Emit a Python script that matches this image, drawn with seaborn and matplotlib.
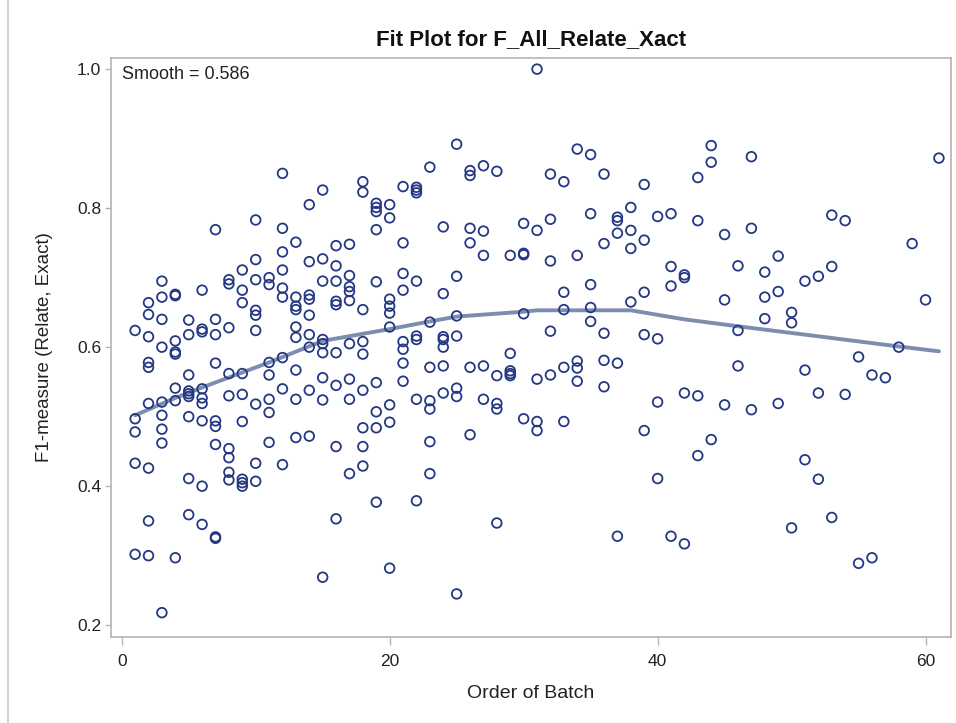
import matplotlib
matplotlib.use("Agg")
import matplotlib.pyplot as plt
import seaborn as sns
import pandas as pd
from matplotlib.lines import Line2D

# ---------------- data ----------------
order_of_batch = [
    1, 1, 1, 1, 1,
    2, 2, 2, 2, 2, 2, 2, 2, 2,
    3, 3, 3, 3, 3, 3, 3, 3, 3,
    4, 4, 4, 4, 4, 4, 4, 4,
    5, 5, 5, 5, 5, 5, 5, 5, 5,
    6, 6, 6, 6, 6, 6, 6, 6, 6,
    7, 7, 7, 7, 7, 7, 7, 7, 7,
    8, 8, 8, 8, 8, 8, 8, 8, 8,
    9, 9, 9, 9, 9, 9, 9, 9, 9,
    10, 10, 10, 10, 10, 10, 10, 10, 10,
    11, 11, 11, 11, 11, 11, 11,
    12, 12, 12, 12, 12, 12, 12, 12, 12,
    13, 13, 13, 13, 13, 13, 13, 13, 13,
    14, 14, 14, 14, 14, 14, 14, 14, 14,
    15, 15, 15, 15, 15, 15, 15, 15, 15,
    16, 16, 16, 16, 16, 16, 16, 16, 16,
    17, 17, 17, 17, 17, 17, 17, 17, 17,
    18, 18, 18, 18, 18, 18, 18, 18, 18,
    19, 19, 19, 19, 19, 19, 19, 19, 19,
    20, 20, 20, 20, 20, 20, 20, 20, 20,
    21, 21, 21, 21, 21, 21, 21, 21,
    22, 22, 22, 22, 22, 22, 22, 22,
    23, 23, 23, 23, 23, 23, 23,
    24, 24, 24, 24, 24, 24, 24,
    25, 25, 25, 25, 25, 25, 25,
    26, 26, 26, 26, 26, 26,
    27, 27, 27, 27, 27,
    28, 28, 28, 28, 28,
    29, 29, 29, 29, 29,
    30, 30, 30, 30, 30,
    31, 31, 31, 31, 31,
    32, 32, 32, 32, 32,
    33, 33, 33, 33, 33,
    34, 34, 34, 34, 34,
    35, 35, 35, 35, 35,
    36, 36, 36, 36, 36,
    37, 37, 37, 37, 37,
    38, 38, 38, 38,
    39, 39, 39, 39, 39,
    40, 40, 40, 40,
    41, 41, 41, 41,
    42, 42, 42, 42,
    43, 43, 43, 43,
    44, 44, 44,
    45, 45, 45,
    46, 46, 46,
    47, 47, 47,
    48, 48, 48,
    49, 49, 49,
    50, 50, 50,
    51, 51, 51,
    52, 52, 52,
    53, 53, 53,
    54, 54,
    55, 55,
    56, 56,
    57,
    58,
    59,
    60,
    61,
]

f1_measure = [
    0.624, 0.497, 0.478, 0.433, 0.302,
    0.664, 0.647, 0.615, 0.578, 0.571, 0.519, 0.426, 0.350, 0.300,
    0.695, 0.672, 0.640, 0.600, 0.521, 0.502, 0.482, 0.462, 0.218,
    0.676, 0.674, 0.609, 0.593, 0.590, 0.541, 0.523, 0.297,
    0.639, 0.618, 0.560, 0.537, 0.533, 0.529, 0.500, 0.411, 0.359,
    0.682, 0.626, 0.622, 0.540, 0.527, 0.519, 0.494, 0.400, 0.345,
    0.769, 0.640, 0.618, 0.577, 0.494, 0.486, 0.460, 0.327, 0.325,
    0.697, 0.691, 0.628, 0.562, 0.530, 0.454, 0.441, 0.420, 0.409,
    0.711, 0.682, 0.664, 0.562, 0.532, 0.493, 0.410, 0.405, 0.400,
    0.783, 0.726, 0.697, 0.653, 0.646, 0.624, 0.518, 0.433, 0.407,
    0.700, 0.690, 0.578, 0.560, 0.525, 0.506, 0.463,
    0.850, 0.771, 0.737, 0.711, 0.685, 0.672, 0.585, 0.540, 0.431,
    0.751, 0.672, 0.659, 0.654, 0.629, 0.614, 0.567, 0.525, 0.470,
    0.805, 0.723, 0.675, 0.669, 0.646, 0.618, 0.600, 0.538, 0.472,
    0.826, 0.727, 0.695, 0.611, 0.605, 0.592, 0.556, 0.524, 0.269,
    0.746, 0.717, 0.695, 0.666, 0.661, 0.592, 0.545, 0.457, 0.353,
    0.748, 0.703, 0.687, 0.680, 0.667, 0.605, 0.554, 0.525, 0.418,
    0.838, 0.823, 0.654, 0.608, 0.590, 0.538, 0.484, 0.457, 0.429,
    0.807, 0.801, 0.795, 0.769, 0.694, 0.549, 0.507, 0.484, 0.377,
    0.805, 0.786, 0.669, 0.659, 0.649, 0.629, 0.517, 0.492, 0.282,
    0.831, 0.750, 0.706, 0.682, 0.608, 0.597, 0.577, 0.551,
    0.830, 0.826, 0.822, 0.695, 0.616, 0.611, 0.525, 0.379,
    0.859, 0.636, 0.571, 0.523, 0.511, 0.464, 0.418,
    0.773, 0.677, 0.615, 0.611, 0.600, 0.573, 0.534,
    0.892, 0.702, 0.645, 0.616, 0.541, 0.529, 0.245,
    0.854, 0.847, 0.771, 0.750, 0.571, 0.474,
    0.861, 0.767, 0.732, 0.573, 0.525,
    0.853, 0.559, 0.519, 0.511, 0.347,
    0.732, 0.591, 0.566, 0.562, 0.559,
    0.778, 0.735, 0.733, 0.648, 0.497,
    1.000, 0.768, 0.554, 0.493, 0.480,
    0.849, 0.784, 0.724, 0.623, 0.560,
    0.838, 0.679, 0.654, 0.571, 0.493,
    0.885, 0.732, 0.580, 0.570, 0.551,
    0.877, 0.792, 0.690, 0.657, 0.637,
    0.849, 0.749, 0.620, 0.581, 0.543,
    0.787, 0.782, 0.764, 0.577, 0.328,
    0.801, 0.768, 0.742, 0.665,
    0.834, 0.754, 0.679, 0.618, 0.480,
    0.788, 0.612, 0.521, 0.411,
    0.792, 0.716, 0.688, 0.328,
    0.704, 0.700, 0.534, 0.317,
    0.844, 0.782, 0.530, 0.444,
    0.890, 0.866, 0.467,
    0.762, 0.668, 0.517,
    0.717, 0.624, 0.573,
    0.874, 0.771, 0.510,
    0.708, 0.672, 0.641,
    0.731, 0.680, 0.519,
    0.650, 0.635, 0.340,
    0.695, 0.567, 0.438,
    0.702, 0.534, 0.410,
    0.790, 0.716, 0.355,
    0.782, 0.532,
    0.586, 0.289,
    0.560, 0.297,
    0.556,
    0.600,
    0.749,
    0.668,
    0.872,
]

# loess fit curve (Smooth = 0.586)
fit_batch = [1, 4, 6, 11, 15, 20, 23, 25, 30, 31, 38, 42, 46, 51, 58, 61]
fit_value = [0.502, 0.527, 0.542, 0.578, 0.609, 0.626, 0.637, 0.644,
             0.651, 0.653, 0.653, 0.640, 0.630, 0.618, 0.601, 0.594]

x_ticks = [0, 20, 40, 60]
y_ticks = [0.2, 0.4, 0.6, 0.8, 1.0]
y_tick_labels = ["0.2", "0.4", "0.6", "0.8", "1.0"]

title_text = "Fit Plot for F_All_Relate_Xact"
x_label = "Order of Batch"
y_label = "F1-measure (Relate, Exact)"
smooth_text = "Smooth = 0.586"

# ---------------- plotting ----------------
sns.set_theme(style="white")
plt.rcParams["font.family"] = ["Liberation Sans", "DejaVu Sans"]

df = pd.DataFrame({"batch": order_of_batch, "f1": f1_measure})
fit_df = pd.DataFrame({"batch": fit_batch, "fit": fit_value})

fig = plt.figure(figsize=(9.56, 7.23), dpi=100)
fig.patch.set_facecolor("white")
ax = fig.add_axes([111 / 956, 1 - 637 / 723, 840 / 956, 579 / 723])

line_color = "#6e81a8"
marker_color = "#233784"

sns.lineplot(data=fit_df, x="batch", y="fit", ax=ax, color=line_color,
             linewidth=2.8, alpha=0.9, zorder=2)
sns.scatterplot(data=df, x="batch", y="f1", ax=ax, marker="o",
                s=48, facecolors="none", edgecolor=marker_color,
                linewidth=1.3, zorder=3)

ax.set_xlim(-0.8, 61.9)
ax.set_ylim(0.183, 1.016)
ax.set_xticks(x_ticks)
ax.set_xticklabels([str(t) for t in x_ticks])
ax.set_yticks(y_ticks)
ax.set_yticklabels(y_tick_labels)

spine_color = "#b4b4b4"
for sp in ax.spines.values():
    sp.set_visible(True)
    sp.set_color(spine_color)
    sp.set_linewidth(1.2)

ax.tick_params(axis="both", which="major", direction="out",
               width=1.0, color=spine_color, labelsize=12.5,
               labelcolor="#222222", bottom=True, left=True)
ax.tick_params(axis="x", length=6, pad=6)
ax.tick_params(axis="y", length=4, pad=3)

ax.set_xlabel(x_label, fontsize=14, color="#222222", labelpad=12)
ax.set_ylabel(y_label, fontsize=13.5, color="#222222", labelpad=17)
ax.set_title(title_text, fontsize=16, fontweight="bold", color="#111111", pad=9)

ax.text(0.013, 0.972, smooth_text, transform=ax.transAxes, fontsize=13,
        color="#222222", ha="left", va="center")

# thin outer frame line on the left like the reference image
fig.add_artist(Line2D([8 / 956, 8 / 956], [0, 1], transform=fig.transFigure,
                      color="#c8c8c8", linewidth=1.2))

fig.savefig("out.png", dpi=100, facecolor="white")
